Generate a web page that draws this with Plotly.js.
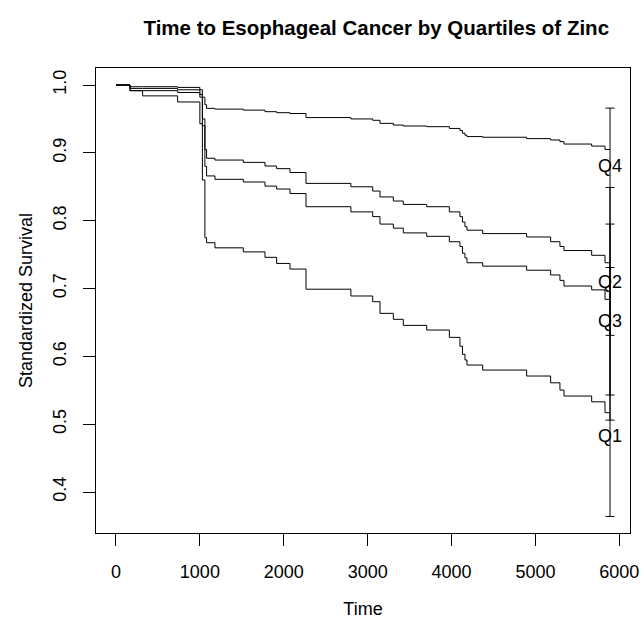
<!DOCTYPE html>
<html>
<head>
<meta charset="utf-8">
<script src="https://cdn.plot.ly/plotly-3.0.1.min.js"></script>
<style>html,body{margin:0;padding:0;background:#fff;}#chart{width:641px;height:619px;}</style>
</head>
<body>
<div id="chart"></div>
<script>
// Event times shared by all quartile curves
const times = [0, 167, 318, 735, 1000, 1030, 1060, 1080, 1180, 1518, 1776, 1915, 2074, 2265, 2800, 3060, 3147, 3306, 3425, 3704, 3974, 4100, 4130, 4160, 4184, 4371, 4895, 5181, 5292, 5340, 5670, 5829, 5889];

// Standardized survival per quartile of zinc
const survQ4 = [1.0, 0.9975, 0.9975, 0.9965, 0.993, 0.982, 0.971, 0.9656, 0.9645, 0.963, 0.9607, 0.9592, 0.958, 0.952, 0.950, 0.948, 0.9435, 0.941, 0.9396, 0.9386, 0.936, 0.933, 0.929, 0.926, 0.924, 0.923, 0.921, 0.919, 0.9165, 0.913, 0.910, 0.905, 0.905];
const survQ2 = [1.0, 0.995, 0.995, 0.993, 0.986, 0.95, 0.905, 0.892, 0.8894, 0.886, 0.8806, 0.8767, 0.871, 0.855, 0.850, 0.8437, 0.835, 0.829, 0.824, 0.8206, 0.813, 0.806, 0.798, 0.791, 0.786, 0.781, 0.776, 0.769, 0.762, 0.756, 0.749, 0.738, 0.738];
const survQ3 = [1.0, 0.9917, 0.9917, 0.989, 0.982, 0.94, 0.88, 0.866, 0.861, 0.857, 0.851, 0.8467, 0.840, 0.8206, 0.813, 0.806, 0.795, 0.789, 0.782, 0.777, 0.769, 0.762, 0.752, 0.745, 0.738, 0.733, 0.727, 0.720, 0.712, 0.7037, 0.698, 0.684, 0.684];
const survQ1 = [1.0, 0.9917, 0.984, 0.975, 0.943, 0.86, 0.775, 0.7675, 0.760, 0.754, 0.746, 0.737, 0.7287, 0.699, 0.689, 0.6806, 0.6634, 0.6546, 0.6457, 0.6388, 0.628, 0.615, 0.603, 0.5946, 0.5872, 0.5798, 0.571, 0.561, 0.5503, 0.5415, 0.533, 0.517, 0.517];

// Interval bars drawn at the last time point
const barNames = ["Q4", "Q2", "Q3", "Q1"];
const barLower = [0.631, 0.543, 0.506, 0.364];
const barUpper = [0.966, 0.849, 0.795, 0.731];

// Curve labels
const labelText = ["Q4", "Q2", "Q3", "Q1"];
const labelY = [0.879, 0.707, 0.650, 0.481];

// Axis ticks
const xTicks = [0, 1000, 2000, 3000, 4000, 5000, 6000];
const yTicks = [0.4, 0.5, 0.6, 0.7, 0.8, 0.9, 1.0];

const FONT = "Liberation Sans, Arial, Helvetica, sans-serif";
const lastT = times[times.length - 1];

const curves = [survQ4, survQ2, survQ3, survQ1].map(function (s) {
  return {
    type: "scatter", mode: "lines", x: times, y: s,
    line: {shape: "hv", color: "#000", width: 1},
    hoverinfo: "skip", showlegend: false
  };
});

const barMid = barLower.map(function (lo, i) { return (lo + barUpper[i]) / 2; });
const bars = {
  type: "scatter", mode: "markers",
  x: barMid.map(function () { return lastT; }), y: barMid,
  marker: {size: 1, opacity: 0, color: "#000"},
  error_y: {
    type: "data", symmetric: false,
    array: barUpper.map(function (u, i) { return u - barMid[i]; }),
    arrayminus: barLower.map(function (l, i) { return barMid[i] - l; }),
    color: "#000", thickness: 1, width: 4.5
  },
  hoverinfo: "skip", showlegend: false
};

const labels = {
  type: "scatter", mode: "text",
  x: labelY.map(function () { return lastT; }), y: labelY,
  text: labelText, textposition: "middle center",
  textfont: {family: FONT, size: 18, color: "#000"},
  hoverinfo: "skip", showlegend: false
};

const layout = {
  width: 641, height: 619,
  margin: {l: 96, r: 11, t: 68, b: 86, pad: 0},
  paper_bgcolor: "#fff", plot_bgcolor: "#fff",
  font: {family: FONT, size: 18, color: "#000"},
  title: {
    text: "<b>Time to Esophageal Cancer by Quartiles of Zinc</b>",
    font: {family: FONT, size: 20.5, color: "#000"},
    x: 0.587, xanchor: "center", y: 0.955, yanchor: "middle", xref: "container", yref: "container"
  },
  xaxis: {
    range: [-238, 6127], tickvals: xTicks, ticktext: xTicks.map(String),
    ticks: "outside", ticklen: 12, tickwidth: 1, tickcolor: "#000",
    showline: true, mirror: true, linecolor: "#000", linewidth: 1,
    showgrid: false, zeroline: false, automargin: false,
    tickfont: {family: FONT, size: 18}, ticklabelstandoff: 10,
    title: {text: "Time", font: {family: FONT, size: 18}, standoff: 22}
  },
  yaxis: {
    range: [0.3396, 1.0251], tickvals: yTicks, ticktext: yTicks.map(function (v) { return v.toFixed(1); }),
    ticks: "outside", ticklen: 12, tickwidth: 1, tickcolor: "#000", tickangle: -90,
    showline: true, mirror: true, linecolor: "#000", linewidth: 1,
    showgrid: false, zeroline: false, automargin: false,
    tickfont: {family: FONT, size: 18}, ticklabelstandoff: 10,
    title: {text: "Standardized Survival", font: {family: FONT, size: 18}, standoff: 12}
  }
};

Plotly.newPlot("chart", curves.concat([bars, labels]), layout, {displayModeBar: false, staticPlot: true});
</script>
</body>
</html>
